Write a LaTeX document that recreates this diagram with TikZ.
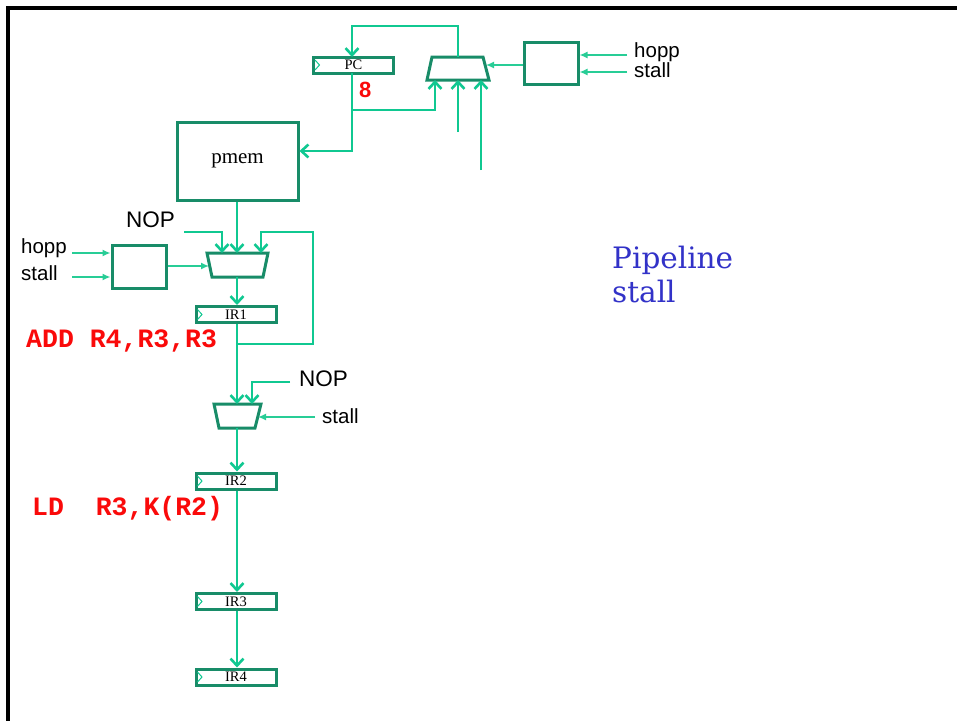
\documentclass[tikz,border=0pt]{standalone}
\usepackage{fontspec}
\setmainfont{Liberation Serif}
\newfontfamily\arialf{Liberation Sans}
\newfontfamily\courf{Liberation Mono}
\newfontfamily\titlef{DejaVu Serif}
\usetikzlibrary{arrows.meta,calc}
\definecolor{boxc}{RGB}{24,140,104}
\definecolor{wirec}{RGB}{16,200,145}
\definecolor{thinc}{RGB}{40,205,150}
\definecolor{codec}{RGB}{250,10,10}
\definecolor{titlec}{RGB}{50,50,200}
\newcommand\clockmark[1]{\draw[clk] ($(#1.west)+(3,-5)$) -- ++(4.5,5) -- ++(-4.5,5);}
\begin{document}
\begin{tikzpicture}[x=1pt,y=-1pt,
  reg/.style={draw=boxc, line width=3pt, minimum width=80pt, minimum height=16pt,
    inner sep=0pt, font=\fontsize{14.5}{14.5}\selectfont},
  cbox/.style={draw=boxc, line width=3pt, inner sep=0pt},
  muxs/.style={draw=boxc, line width=3pt, line join=miter},
  clk/.style={draw=wirec, line width=1pt},
  wire/.style={draw=wirec, line width=2.8pt, line join=miter},
  warr/.style={wire, -{Straight Barb[length=7pt,width=13pt,line width=2.6pt]}},
  tarr/.style={draw=thinc, line width=1.5pt, -{Latex[length=8pt,width=7pt]}},
  lbl/.style={inner sep=0pt, anchor=base west, font=\arialf\fontsize{20.5}{20.5}\selectfont},
  nop/.style={inner sep=0pt, anchor=base west, font=\arialf\fontsize{22.5}{22.5}\selectfont},
  code/.style={inner sep=0pt, anchor=base west, text=codec, font=\courf\bfseries\fontsize{26.5}{26.5}\selectfont},
  ttl/.style={inner sep=0pt, anchor=base west, text=titlec, font=\titlef\fontsize{29.5}{29.5}\selectfont}]
\useasboundingbox (0,0) rectangle (957,720);
\fill[white] (0,0) rectangle (957,720);

% slide frame
\draw[line width=3.2pt, line cap=rect] (8,725) -- (8,8) -- (962,8);

% ---------- fetch stage ----------
\node[reg] (pc) at (353.5,65) {PC};
\clockmark{pc}
\draw[muxs] (432,57) -- (483,57) -- (489,80) -- (427,80) -- cycle;
\coordinate (m0out) at (458,57);
\coordinate (m0a) at (435,80);
\coordinate (m0b) at (458,80);
\coordinate (m0c) at (481,80);
\coordinate (m0s) at (486,65);
\node[cbox, minimum width=54pt, minimum height=42pt] (ctl0) at (551,63) {};
\node[reg, minimum width=121pt, minimum height=78pt, font=\fontsize{21}{21}\selectfont] (pmem) at (237.5,161) {pmem};

\coordinate (pcb) at (352,73);
\coordinate (pcj) at (352,110);
\coordinate (in1) at (458,132);
\coordinate (in2) at (481,170);
\coordinate (h0) at (627,55);
\coordinate (s0) at (627,72);

\draw[warr] (m0out) -- (458,26) -- (352,26) -- (352,57);
\draw[warr] (pcb) -- (352,151) -- (pmem.east |- 0,151);
\draw[warr] (pcj) -- (435,110) -- (m0a);
\draw[warr] (in1) -- (m0b);
\draw[warr] (in2) -- (m0c);
\draw[tarr] (ctl0.west |- 0,65) -- (m0s);
\draw[tarr] (h0) -- (ctl0.east |- h0);
\draw[tarr] (s0) -- (ctl0.east |- s0);
\node[lbl] (hopp0) at (634,57) {hopp};
\node[lbl] (stall0) at (634,77) {stall};
\node[inner sep=0pt, anchor=base west, text=codec, font=\arialf\bfseries\fontsize{22}{22}\selectfont] (eight) at (359,97) {8};

% ---------- IR1 stage ----------
\draw[muxs] (207,253) -- (268,253) -- (263,277) -- (212,277) -- cycle;
\coordinate (m1a) at (222,253);
\coordinate (m1b) at (237,253);
\coordinate (m1c) at (261,253);
\coordinate (m1s) at (209,266);
\coordinate (m1out) at (237,277);
\node[cbox, minimum width=54pt, minimum height=43pt] (ctl1) at (139,266.5) {};
\node[reg] (ir1) at (236,314.5) {IR1};
\clockmark{ir1}
\coordinate (nop1) at (184,232);
\coordinate (h1) at (72,253);
\coordinate (s1) at (72,277);
\coordinate (ir1j) at (237,344);

\draw[warr] (pmem.south -| m1b) -- (m1b);
\draw[warr] (nop1) -- (222,232) -- (m1a);
\draw[warr] (ir1j) -- (313,344) -- (313,232) -- (261,232) -- (m1c);
\draw[warr] (m1out) -- (ir1.north -| m1out);
\draw[tarr] (ctl1.east |- 0,266) -- (m1s);
\draw[tarr] (h1) -- (ctl1.west |- h1);
\draw[tarr] (s1) -- (ctl1.west |- s1);
\node[nop] (nopt1) at (126,227) {NOP};
\node[lbl] (hopp1) at (21,253) {hopp};
\node[lbl] (stall1) at (21,280) {stall};
\node[code] (add) at (26,347) {ADD R4,R3,R3};

% ---------- IR2 stage ----------
\draw[muxs] (214,404) -- (261,404) -- (255,428) -- (219,428) -- cycle;
\coordinate (m2a) at (237,404);
\coordinate (m2b) at (252,404);
\coordinate (m2s) at (258,417);
\coordinate (m2out) at (237,428);
\node[reg] (ir2) at (236,481) {IR2};
\clockmark{ir2}
\coordinate (nop2) at (290,382);
\coordinate (s2) at (315,417);

\draw[warr] (ir1.south -| m2a) -- (m2a);
\draw[warr] (nop2) -- (252,382) -- (m2b);
\draw[tarr] (s2) -- (m2s);
\draw[warr] (m2out) -- (ir2.north -| m2out);
\node[nop] (nopt2) at (299,386) {NOP};
\node[lbl] (stall2) at (322,423) {stall};
\node[code] (ld) at (32,515) {LD\ \ R3,K(R2)};

% ---------- IR3 / IR4 ----------
\node[reg] (ir3) at (236,601.5) {IR3};
\clockmark{ir3}
\node[reg] (ir4) at (236,677) {IR4};
\clockmark{ir4}
\draw[warr] (ir2.south -| 237,0) -- (ir3.north -| 237,0);
\draw[warr] (ir3.south -| 237,0) -- (ir4.north -| 237,0);

% ---------- title ----------
\node[ttl] (t1) at (612,268) {Pipeline};
\node[ttl] (t2) at (612,302) {stall};
\end{tikzpicture}
\end{document}
